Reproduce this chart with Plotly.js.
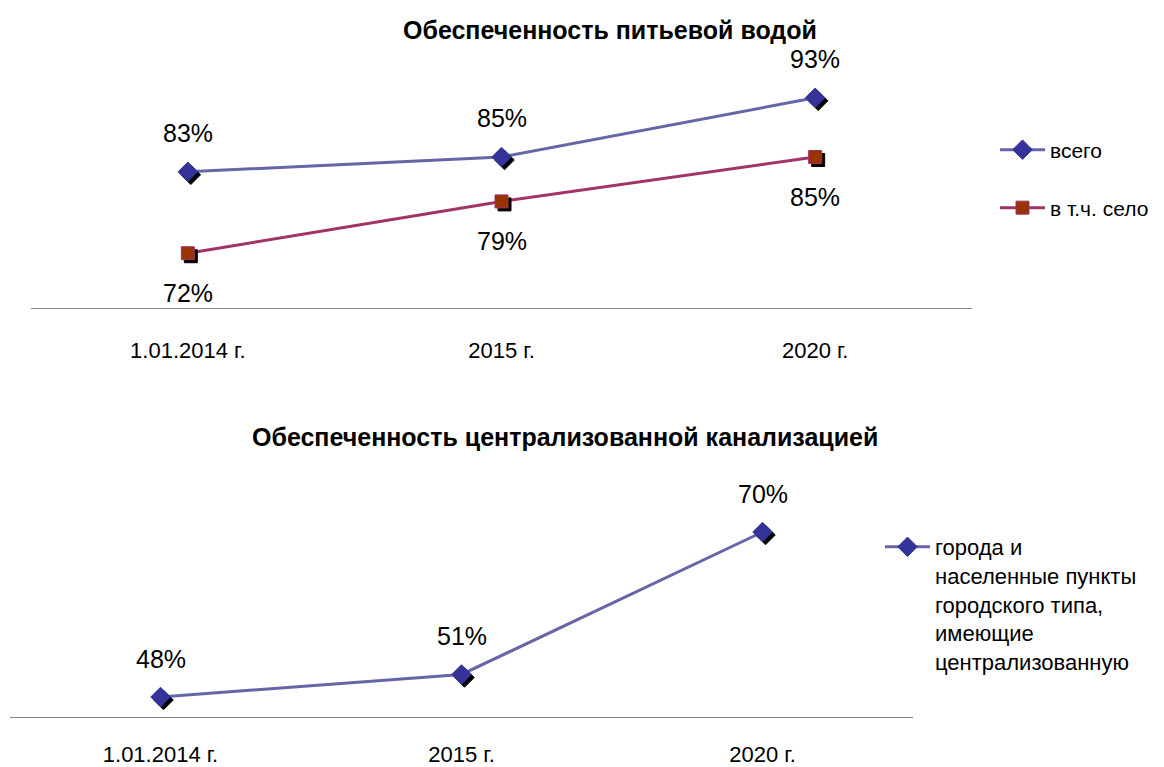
<!DOCTYPE html>
<html><head><meta charset="utf-8">
<script src="https://cdn.plot.ly/plotly-3.0.1.min.js"></script>
<style>
body{margin:0;background:#fff}
#chart{width:1164px;height:767px}
.scatterlayer .points path{filter:drop-shadow(3px 3px 0 #000)}
</style>
</head><body><div id="chart"></div>
<script>
const categories = ["1.01.2014 г.", "2015 г.", "2020 г."];
const waterTotal = [83, 85, 93];
const waterVillage = [72, 79, 85];
const sewerTowns = [48, 51, 70];
const title1 = "Обеспеченность питьевой водой";
const title2 = "Обеспеченность централизованной канализацией";
const name1 = "всего";
const name2 = "в т.ч. село";
const name3 = "города и<br>населенные пункты<br>городского типа,<br>имеющие<br>централизованную";

const FONT = '"Liberation Sans Narrow", "Liberation Sans", Arial, sans-serif';
const idx = categories.map((c,i)=>i);

const traces = [
  {x: idx, y: waterTotal, name: name1, mode: 'lines+markers', xaxis:'x', yaxis:'y', legend:'legend',
   line:{color:'#6666a6', width:3}, marker:{symbol:'diamond', size:15, color:'#333399', line:{color:'#333399', width:1}}},
  {x: idx, y: waterVillage, name: name2, mode: 'lines+markers', xaxis:'x', yaxis:'y', legend:'legend2',
   line:{color:'#a0336a', width:3}, marker:{symbol:'square', size:13, color:'#993300', line:{color:'#a0336a', width:1}}},
  {x: idx, y: sewerTowns, name: name3, mode: 'lines+markers', xaxis:'x2', yaxis:'y2', legend:'legend3',
   line:{color:'#6666a6', width:3}, marker:{symbol:'diamond', size:15, color:'#333399', line:{color:'#333399', width:1}}}
];

const annotations = [];
const lblFont = {family: FONT, size: 25, color:'#000'};
waterTotal.forEach((v,i)=>annotations.push({x:i, y:v, xref:'x', yref:'y', text: v+'%', showarrow:false, yshift:39, font:lblFont}));
waterVillage.forEach((v,i)=>annotations.push({x:i, y:v, xref:'x', yref:'y', text: v+'%', showarrow:false, yshift:-40, font:lblFont}));
sewerTowns.forEach((v,i)=>annotations.push({x:i, y:v, xref:'x2', yref:'y2', text: v+'%', showarrow:false, yshift:38, font:lblFont}));
annotations.push({xref:'paper', yref:'paper', x:610/1164, y:1-30/767, xanchor:'center', yanchor:'middle', text:'<b>'+title1+'</b>', showarrow:false, font:{family:FONT, size:25, color:'#000'}});
annotations.push({xref:'paper', yref:'paper', x:565/1164, y:1-437/767, xanchor:'center', yanchor:'middle', text:'<b>'+title2+'</b>', showarrow:false, font:{family:FONT, size:25, color:'#000'}});

const xax = (dom, anchor, standoff)=>({domain: dom, anchor: anchor, range:[-0.5, 2.5], tickvals: idx, ticktext: categories, showgrid:false, zeroline:false,
  showline:true, linecolor:'#868686', linewidth:1, ticks:'', ticklabelstandoff:standoff, tickfont:{family:FONT, size:22, color:'#000'}, fixedrange:true});
const yax = (dom, rng, anchor)=>({domain: dom, anchor: anchor, range: rng, visible:false, showgrid:false, zeroline:false, fixedrange:true});

const legFont = {family: FONT, size: 21, color:'#000'};
const layout = {
  width:1164, height:767, margin:{l:0, r:0, t:0, b:0}, paper_bgcolor:'#fff', plot_bgcolor:'rgba(0,0,0,0)',
  showlegend:true,
  xaxis: xax([31/1164, 972/1164], 'y', 23),
  yaxis: yax([1-308/767, 1-46/767], [64.6, 100], 'x'),
  xaxis2: xax([10/1164, 913/1164], 'y2', 18),
  yaxis2: yax([1-717/767, 1-490/767], [45.33, 75.6], 'x2'),
  legend: {x:995/1164, y:1-150/767, xanchor:'left', yanchor:'middle', font:legFont, bgcolor:'rgba(0,0,0,0)', itemwidth:45},
  legend2: {x:995/1164, y:1-208/767, xanchor:'left', yanchor:'middle', font:legFont, bgcolor:'rgba(0,0,0,0)', itemwidth:45},
  legend3: {x:880/1164, y:1-526/767, xanchor:'left', yanchor:'top', valign:'top', font:{family:FONT, size:22, color:'#000'}, bgcolor:'rgba(0,0,0,0)', itemwidth:45},
  annotations: annotations
};
Plotly.newPlot('chart', traces, layout, {displayModeBar:false, staticPlot:true});
</script></body></html>
